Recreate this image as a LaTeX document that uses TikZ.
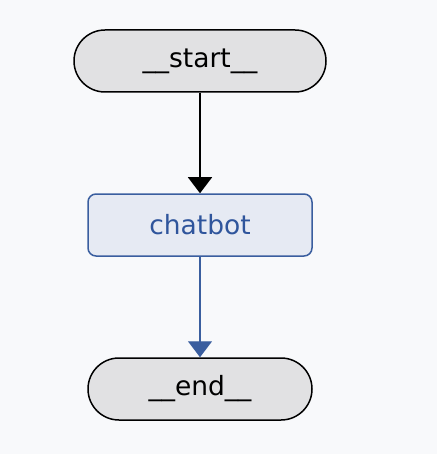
\documentclass[tikz,border=0pt]{standalone}
\usepackage{fontspec}
\setmainfont{DejaVu Sans}
\usetikzlibrary{arrows.meta}
\definecolor{bgc}{HTML}{F8F9FB}
\definecolor{greyfill}{HTML}{E1E1E3}
\definecolor{bluefill}{HTML}{E6EAF3}
\definecolor{blueline}{HTML}{3A5E9F}
\definecolor{bluetext}{HTML}{2F559C}
\tikzset{
  pill/.style={draw=black, line width=1.5pt, fill=greyfill, rounded corners=31pt,
    minimum height=62pt, inner sep=0pt, font=\fontsize{26.5}{30}\selectfont, text=black},
  task/.style={draw=blueline, line width=1.5pt, fill=bluefill, rounded corners=8pt,
    minimum width=224pt, minimum height=62pt, inner sep=0pt, font=\fontsize{26.5}{30}\selectfont, text=bluetext},
  blackarrow/.style={draw=black, line width=1.3pt, -{Triangle[length=16pt,width=24pt]}},
  bluearrow/.style={draw=blueline, line width=1.3pt, -{Triangle[length=16pt,width=24pt]}}
}
\begin{document}
\begin{tikzpicture}[x=1pt,y=-1pt]
\fill[bgc] (0,0) rectangle (437,454);
\useasboundingbox (0,0) rectangle (437,454);
\node[pill, minimum width=252pt] (start) at (200,61) {\_\_start\_\_};
\node[task] (chatbot) at (200,225) {chatbot};
\node[pill, minimum width=224pt] (end) at (200,389) {\_\_end\_\_};
\draw[blackarrow] (start) -- (chatbot);
\draw[bluearrow] (chatbot) -- (end);
\end{tikzpicture}
\end{document}
